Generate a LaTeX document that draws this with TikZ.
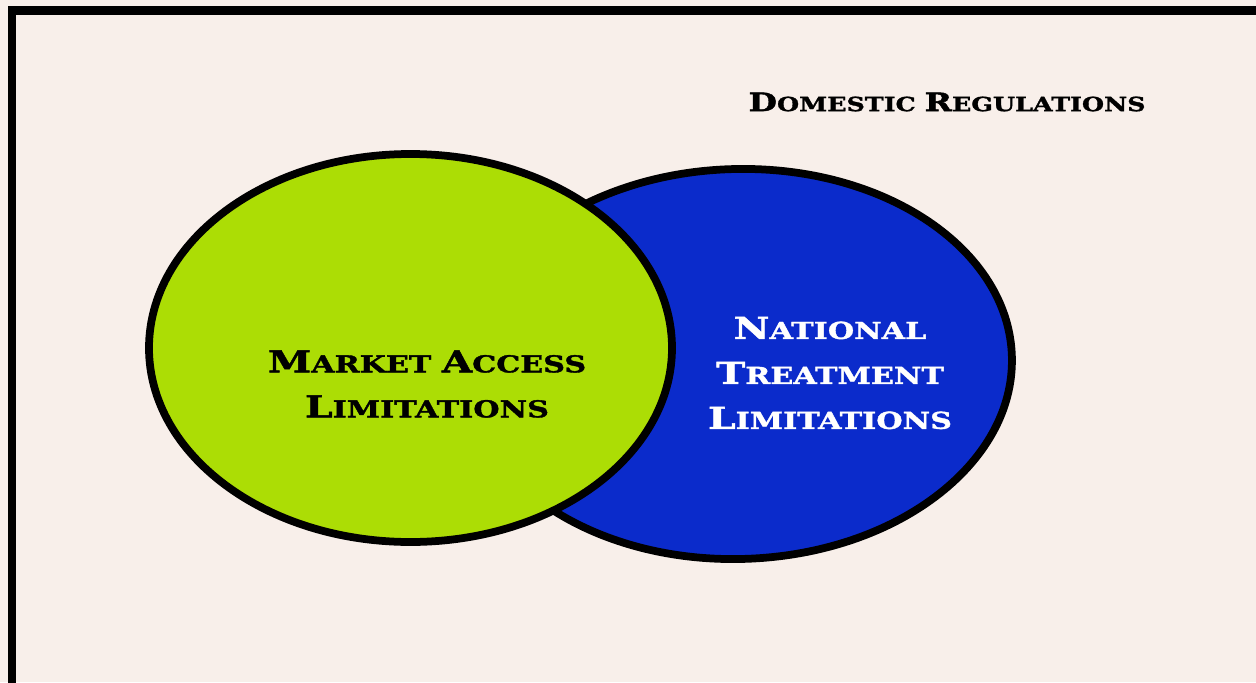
\documentclass[tikz,border=0pt]{standalone}
\usepackage{fontspec}
\usetikzlibrary{shapes.geometric}
\newfontfamily\plate[FakeStretch=1.3, FakeBold=1.6]{DejaVu Serif Bold}
\definecolor{paper}{RGB}{248,239,234}
\definecolor{limegreen}{RGB}{172,221,5}
\definecolor{royal}{RGB}{11,43,203}
% small caps by hand: bigger first letter, then the rest
\newcommand\scw[2]{\scalebox{1.3}{#1}#2}
\tikzset{
  blob/.style={ellipse, draw=black, line width=0.155cm, inner sep=0pt},
  label/.style={align=center, font=\plate\fontsize{13.2}{25.6}\selectfont},
}

\begin{document}
\begin{tikzpicture}
  \useasboundingbox (0,0) rectangle (25.12,13.64);
  \clip (0,0) rectangle (25.12,13.64);
  \fill[paper] (0,0) rectangle (25.12,13.64);
  \draw[line width=0.17cm] (0.24,-0.3) rectangle (25.6,13.43);

  \node[blob, fill=royal, minimum width=10.96cm, minimum height=7.8cm, rotate=1.5] (national) at (14.76,6.36) {};
  \node[blob, fill=limegreen, minimum width=10.46cm, minimum height=7.76cm] (access) at (8.21,6.68) {};

  \node[label] (accesstext) at (8.54,5.96) {\scw{M}{ARKET} \scw{A}{CCESS}\\\scw{L}{IMITATIONS}};
  \node[label, text=white] (nationaltext) at (16.6,6.18) {\scw{N}{ATIONAL}\\\scw{T}{REATMENT}\\\scw{L}{IMITATIONS}};
  \node[label, font=\plate\fontsize{11.1}{13}\selectfont] (domestic) at (18.94,11.6) {\scw{D}{OMESTIC} \scw{R}{EGULATIONS}};
\end{tikzpicture}
\end{document}
